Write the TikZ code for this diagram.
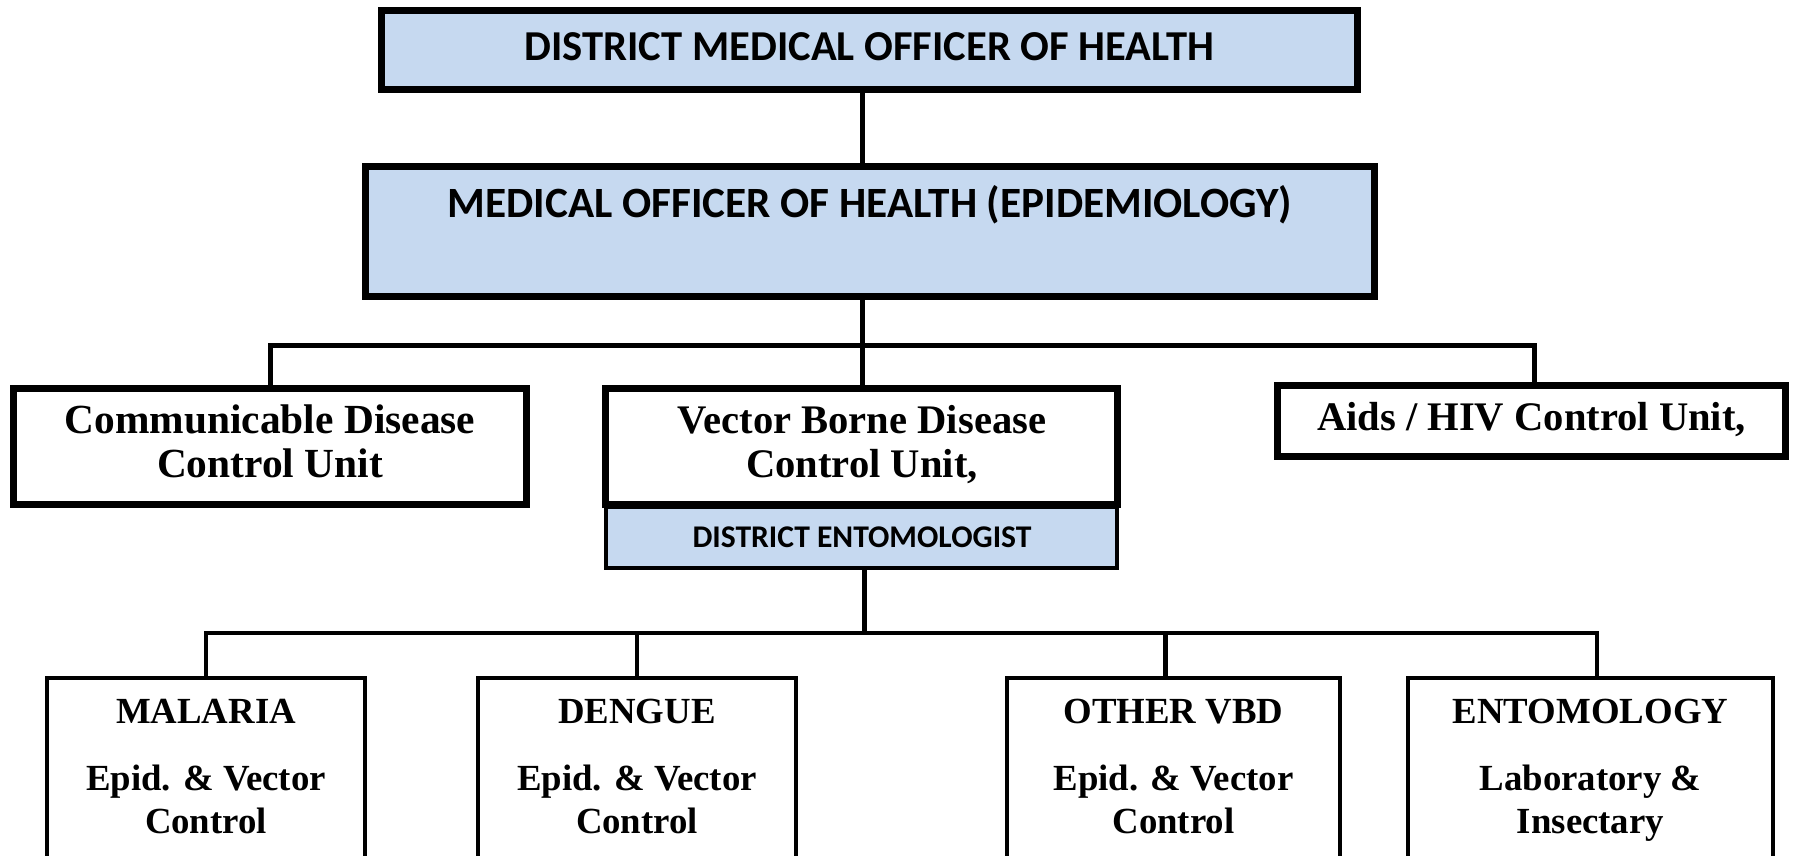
\documentclass[tikz,border=0pt]{standalone}
\usepackage{fontspec}
\setmainfont{Liberation Serif}
\newfontfamily\calfont{Carlito}
\definecolor{boxblue}{HTML}{C6D9F0}
\begin{document}
\begin{tikzpicture}[x=1pt,y=-1pt,
  thickbox/.style={draw=black, line width=7pt, inner sep=0pt},
  bluebox/.style={thickbox, fill=boxblue},
  thinbox/.style={draw=black, line width=4pt, inner sep=0pt},
  conn/.style={draw=black, line width=5pt},
  connb/.style={draw=black, line width=4.3pt},
  caltxt/.style={font=\calfont\bfseries\fontsize{42.6}{48}\selectfont, inner sep=0pt, anchor=base},
  sertxt/.style={font=\bfseries\fontsize{40.6}{44}\selectfont, inner sep=0pt, anchor=base},
  bottxt/.style={font=\bfseries\fontsize{36.8}{43}\selectfont, inner sep=0pt, anchor=base}]
\useasboundingbox (0,0) rectangle (1794,855);
\clip (0,0) rectangle (1794,855);
\fill[white] (0,0) rectangle (1794,855);

% top levels
\node[bluebox, minimum width=976pt, minimum height=79pt] (dmoh) at (869.5,50) {};
\node[caltxt] (dmohT) at (869.5,60) {DISTRICT MEDICAL OFFICER OF HEALTH};
\node[bluebox, minimum width=1009pt, minimum height=130pt] (moh) at (870,231.5) {};
\node[caltxt, font=\calfont\bfseries\fontsize{43.2}{48}\selectfont] (mohT) at (870,217) {MEDICAL OFFICER OF HEALTH (EPIDEMIOLOGY)};

% units
\node[thickbox, minimum width=513pt, minimum height=116pt] (cd) at (270,446.5) {};
\node[sertxt, font=\bfseries\fontsize{41.4}{44}\selectfont] (cdT) at (270,433) {\begin{tabular}[t]{@{}c@{}}Communicable Disease\\Control Unit\end{tabular}};
\node[thinbox, fill=boxblue, minimum width=511pt, minimum height=61pt] (de) at (861.5,537.5) {};
\node[caltxt, font=\calfont\bfseries\fontsize{31.6}{36}\selectfont] (deT) at (862,547) {DISTRICT ENTOMOLOGIST};
\node[thickbox, fill=white, minimum width=512pt, minimum height=116pt] (vbd) at (861.5,446.5) {};
\node[sertxt] (vbdT) at (862,433) {\begin{tabular}[t]{@{}c@{}}Vector Borne Disease\\Control Unit,\end{tabular}};
\node[thickbox, minimum width=508pt, minimum height=71pt] (aids) at (1531.5,421) {};
\node[sertxt] (aidsT) at (1531.5,430) {Aids / HIV Control Unit,};

% bottom boxes
\node[thinbox, minimum width=318pt, minimum height=200pt] (mal) at (206,778) {};
\node[bottxt] (malT) at (206,723) {MALARIA};
\node[bottxt] (malB) at (206,790) {\begin{tabular}[t]{@{}c@{}}Epid. \& Vector\\Control\end{tabular}};
\node[thinbox, minimum width=318pt, minimum height=200pt] (den) at (637,778) {};
\node[bottxt] (denT) at (637,723) {DENGUE};
\node[bottxt] (denB) at (637,790) {\begin{tabular}[t]{@{}c@{}}Epid. \& Vector\\Control\end{tabular}};
\node[thinbox, minimum width=333pt, minimum height=200pt] (ovbd) at (1173.5,778) {};
\node[bottxt] (ovbdT) at (1173.5,723) {OTHER VBD};
\node[bottxt] (ovbdB) at (1173.5,790) {\begin{tabular}[t]{@{}c@{}}Epid. \& Vector\\Control\end{tabular}};
\node[thinbox, minimum width=365pt, minimum height=200pt] (ento) at (1590.5,778) {};
\node[bottxt] (entoT) at (1590.5,723) {ENTOMOLOGY};
\node[bottxt] (entoB) at (1590.5,790) {\begin{tabular}[t]{@{}c@{}}Laboratory \&\\Insectary\end{tabular}};

% connectors
\coordinate (spine) at (862,0);
\coordinate (bus1) at (862,345);
\coordinate (bus2) at (864,633);
\draw[conn] (dmoh.south -| spine) -- (moh.north -| spine);
\draw[conn] (moh.south -| spine) -- (vbd.north -| spine);
\draw[conn] (cd.north) |- (bus1) -| ([xshift=2.5pt]aids.north);
\draw[conn] (de.south -| bus2) -- (bus2);
\draw[connb] (mal.north) |- (bus2) -| ([xshift=6.5pt]ento.north);
\draw[connb] (den.north) -- (den.north |- bus2);
\draw[connb] ([xshift=-8pt]ovbd.north) -- ([xshift=-8pt]ovbd.north |- bus2);
\end{tikzpicture}
\end{document}
